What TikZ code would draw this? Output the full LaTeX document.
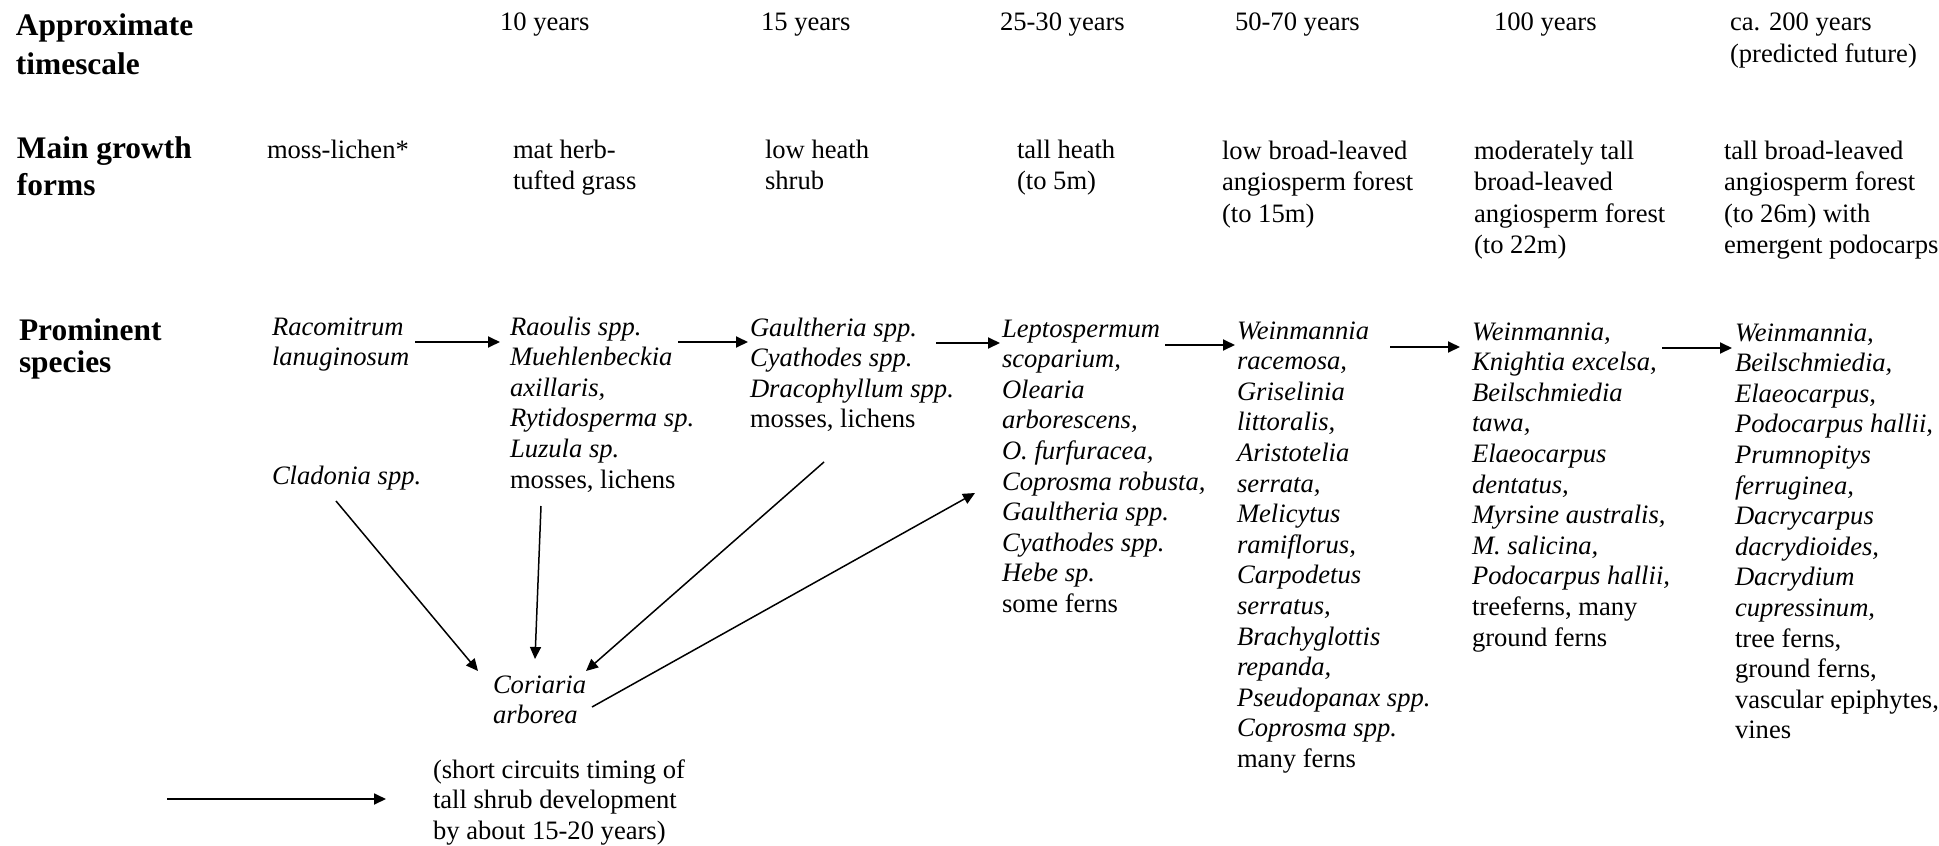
\documentclass[tikz,border=0pt]{standalone}
\usepackage{fontspec}
\setmainfont{Liberation Serif}
\usepackage{array}
\usetikzlibrary{arrows.meta}
\newcommand\colit[1]{\begin{tabular}[t]{@{}>{\itshape}l@{}}#1\end{tabular}}
\newcommand\colrm[1]{\begin{tabular}[t]{@{}l@{}}#1\end{tabular}}
\begin{document}
\begin{tikzpicture}[x=0.5pt,y=-0.5pt,
  every node/.style={inner sep=0pt,outer sep=0pt,anchor=base west},
  hdr/.style={font=\fontsize{15.7}{18}\selectfont\bfseries},
  body/.style={font=\fontsize{13.3}{15.8}\selectfont},
  spec/.style={font=\fontsize{13.3}{15.3}\selectfont},
  arr/.style={-{Triangle[length=6pt,width=5.5pt]},line width=0.9pt},
  darr/.style={-{Triangle[length=6pt,width=5.5pt]},line width=0.75pt},
]
\useasboundingbox (0,0) rectangle (1939,846);

% row headers
\node[hdr] (hA) at (16,35)  {\colrm{Approximate\\[1.8pt] timescale}};
\node[hdr] (hM) at (17,158) {\colrm{Main growth\\[0.5pt] forms}};
\node[hdr] (hP) at (19,340) {\colrm{Prominent\\[-2pt] species}};

% timescale
\node[body] (t1) at (500,30)  {10 years};
\node[body] (t2) at (761,30)  {15 years};
\node[body] (t3) at (1000,30) {25-30 years};
\node[body] (t4) at (1235,31) {50-70 years};
\node[body] (t5) at (1494,31) {100 years};
\node[body] (t6) at (1730,31) {\colrm{ca. 200 years\\(predicted future)}};

% growth forms
\node[body] (g0) at (267,158)  {moss-lichen*};
\node[body] (g1) at (513,158)  {\colrm{mat herb-\\tufted grass}};
\node[body] (g2) at (765,158)  {\colrm{low heath\\shrub}};
\node[body] (g3) at (1017,158) {\colrm{tall heath\\(to 5m)}};
\node[body] (g4) at (1222,159) {\colrm{low broad-leaved\\angiosperm forest\\(to 15m)}};
\node[body] (g5) at (1474,159) {\colrm{moderately tall\\broad-leaved\\angiosperm forest\\(to 22m)}};
\node[body] (g6) at (1724,159) {\colrm{tall broad-leaved\\angiosperm forest\\(to 26m) with\\emergent podocarps}};

% prominent species
\node[spec] (s0) at (272,335) {\colit{Racomitrum\\lanuginosum}};
\node[spec] (s1) at (510,335) {\colit{Raoulis spp.\\Muehlenbeckia\\axillaris,\\Rytidosperma sp.\\Luzula sp.\\\upshape mosses, lichens}};
\node[spec] (s2) at (750,336) {\colit{Gaultheria spp.\\Cyathodes spp.\\Dracophyllum spp.\\\upshape mosses, lichens}};
\node[spec] (s3) at (1002,337) {\colit{Leptospermum\\scoparium,\\Olearia\\arborescens,\\O. furfuracea,\\Coprosma robusta,\\Gaultheria spp.\\Cyathodes spp.\\Hebe sp.\\\upshape some ferns}};
\node[spec] (s4) at (1237,339) {\colit{Weinmannia\\racemosa,\\Griselinia\\littoralis,\\Aristotelia\\serrata,\\Melicytus\\ramiflorus,\\Carpodetus\\serratus,\\Brachyglottis\\repanda,\\Pseudopanax spp.\\Coprosma spp.\\\upshape many ferns}};
\node[spec] (s5) at (1472,340) {\colit{Weinmannia,\\Knightia excelsa,\\Beilschmiedia\\tawa,\\Elaeocarpus\\dentatus,\\Myrsine australis,\\M. salicina,\\Podocarpus hallii,\\\upshape treeferns, many\\\upshape ground ferns}};
\node[spec] (s6) at (1735,341) {\colit{Weinmannia,\\Beilschmiedia,\\Elaeocarpus,\\Podocarpus hallii,\\Prumnopitys\\ferruginea,\\Dacrycarpus\\dacrydioides,\\Dacrydium\\cupressinum,\\\upshape tree ferns,\\\upshape ground ferns,\\\upshape vascular epiphytes,\\\upshape vines}};
\node[spec] (cl) at (272,484) {\itshape Cladonia spp.};
\node[spec] (co) at (493,693) {\colit{Coriaria\\arborea}};
\node[spec] (nt) at (433,778) {\colrm{(short circuits timing of\\tall shrub development\\by about 15-20 years)}};

% connector end points
\coordinate (a0s) at (415,342);  \coordinate (a0e) at (500,342);
\coordinate (a1s) at (678,342);  \coordinate (a1e) at (748,342);
\coordinate (a2s) at (936,343);  \coordinate (a2e) at (1000,343);
\coordinate (a3s) at (1165,345); \coordinate (a3e) at (1235,345);
\coordinate (a4s) at (1390,347); \coordinate (a4e) at (1460,347);
\coordinate (a5s) at (1662,348); \coordinate (a5e) at (1732,348);
\coordinate (c1s) at (336,501);  \coordinate (c1e) at (478,671);
\coordinate (c2s) at (541,506);  \coordinate (c2e) at (535,659);
\coordinate (c3s) at (824,462);  \coordinate (c3e) at (586,671);
\coordinate (c4s) at (592,707);  \coordinate (c4e) at (975,493);
\coordinate (ls) at (167,799);   \coordinate (le) at (386,799);

\draw[arr] (a0s) -- (a0e);
\draw[arr] (a1s) -- (a1e);
\draw[arr] (a2s) -- (a2e);
\draw[arr] (a3s) -- (a3e);
\draw[arr] (a4s) -- (a4e);
\draw[arr] (a5s) -- (a5e);
\draw[darr] (c1s) -- (c1e);
\draw[darr] (c2s) -- (c2e);
\draw[darr] (c3s) -- (c3e);
\draw[darr] (c4s) -- (c4e);
\draw[arr] (ls) -- (le);
\end{tikzpicture}
\end{document}
